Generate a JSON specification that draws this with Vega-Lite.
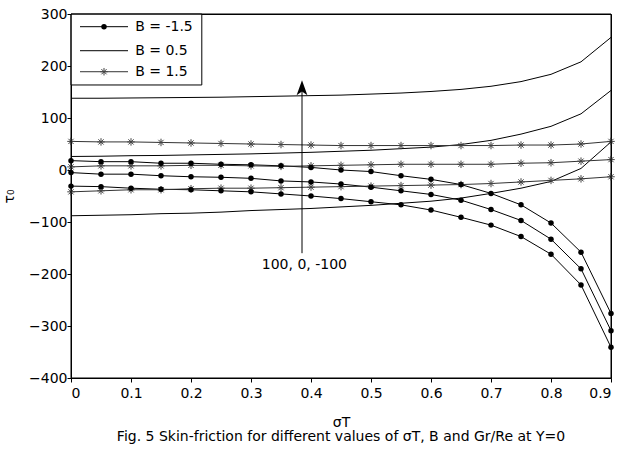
{
  "$schema": "https://vega.github.io/schema/vega-lite/v6.json",
  "width": 540,
  "height": 364,
  "autosize": {"type": "none"},
  "padding": {"left": 71, "top": 14, "right": 11, "bottom": 71},
  "background": "white",
  "config": {
    "view": {"stroke": "black", "strokeWidth": 1},
    "axis": {
      "grid": false,
      "domainColor": "black",
      "domainWidth": 1,
      "tickColor": "black",
      "tickWidth": 1,
      "tickSize": 4,
      "labelPadding": 2,
      "labelColor": "black",
      "titleColor": "black",
      "labelFont": "DejaVu Sans",
      "labelFontSize": 14,
      "titleFont": "DejaVu Sans",
      "titleFontSize": 14,
      "titleFontWeight": "normal"
    }
  },
  "title": {
    "text": "Fig. 5 Skin-friction for different values of σT, B and Gr/Re at Y=0",
    "orient": "bottom",
    "anchor": "middle",
    "font": "DejaVu Sans",
    "fontSize": 14,
    "fontWeight": "normal",
    "color": "black",
    "offset": 1
  },
  "datasets": {
    "curves": [
      {"s": 0, "t": 138, "B": "0.5", "G": "100"},
      {"s": 0.05, "t": 138, "B": "0.5", "G": "100"},
      {"s": 0.1, "t": 138.5, "B": "0.5", "G": "100"},
      {"s": 0.15, "t": 139, "B": "0.5", "G": "100"},
      {"s": 0.2, "t": 139.5, "B": "0.5", "G": "100"},
      {"s": 0.25, "t": 140, "B": "0.5", "G": "100"},
      {"s": 0.3, "t": 141, "B": "0.5", "G": "100"},
      {"s": 0.35, "t": 142, "B": "0.5", "G": "100"},
      {"s": 0.4, "t": 143, "B": "0.5", "G": "100"},
      {"s": 0.45, "t": 144, "B": "0.5", "G": "100"},
      {"s": 0.5, "t": 146, "B": "0.5", "G": "100"},
      {"s": 0.55, "t": 148, "B": "0.5", "G": "100"},
      {"s": 0.6, "t": 151, "B": "0.5", "G": "100"},
      {"s": 0.65, "t": 155, "B": "0.5", "G": "100"},
      {"s": 0.7, "t": 161, "B": "0.5", "G": "100"},
      {"s": 0.75, "t": 170, "B": "0.5", "G": "100"},
      {"s": 0.8, "t": 184, "B": "0.5", "G": "100"},
      {"s": 0.85, "t": 208, "B": "0.5", "G": "100"},
      {"s": 0.9, "t": 255, "B": "0.5", "G": "100"},
      {"s": 0, "t": 26, "B": "0.5", "G": "0"},
      {"s": 0.05, "t": 26.5, "B": "0.5", "G": "0"},
      {"s": 0.1, "t": 27.5, "B": "0.5", "G": "0"},
      {"s": 0.15, "t": 28, "B": "0.5", "G": "0"},
      {"s": 0.2, "t": 29, "B": "0.5", "G": "0"},
      {"s": 0.25, "t": 30, "B": "0.5", "G": "0"},
      {"s": 0.3, "t": 31, "B": "0.5", "G": "0"},
      {"s": 0.35, "t": 32.5, "B": "0.5", "G": "0"},
      {"s": 0.4, "t": 34, "B": "0.5", "G": "0"},
      {"s": 0.45, "t": 36, "B": "0.5", "G": "0"},
      {"s": 0.5, "t": 38, "B": "0.5", "G": "0"},
      {"s": 0.55, "t": 41, "B": "0.5", "G": "0"},
      {"s": 0.6, "t": 44, "B": "0.5", "G": "0"},
      {"s": 0.65, "t": 49, "B": "0.5", "G": "0"},
      {"s": 0.7, "t": 57, "B": "0.5", "G": "0"},
      {"s": 0.75, "t": 69, "B": "0.5", "G": "0"},
      {"s": 0.8, "t": 84, "B": "0.5", "G": "0"},
      {"s": 0.85, "t": 108, "B": "0.5", "G": "0"},
      {"s": 0.9, "t": 153, "B": "0.5", "G": "0"},
      {"s": 0, "t": -88, "B": "0.5", "G": "-100"},
      {"s": 0.05, "t": -87, "B": "0.5", "G": "-100"},
      {"s": 0.1, "t": -86, "B": "0.5", "G": "-100"},
      {"s": 0.15, "t": -84, "B": "0.5", "G": "-100"},
      {"s": 0.2, "t": -83, "B": "0.5", "G": "-100"},
      {"s": 0.25, "t": -81, "B": "0.5", "G": "-100"},
      {"s": 0.3, "t": -78, "B": "0.5", "G": "-100"},
      {"s": 0.35, "t": -76, "B": "0.5", "G": "-100"},
      {"s": 0.4, "t": -74, "B": "0.5", "G": "-100"},
      {"s": 0.45, "t": -71, "B": "0.5", "G": "-100"},
      {"s": 0.5, "t": -68, "B": "0.5", "G": "-100"},
      {"s": 0.55, "t": -64, "B": "0.5", "G": "-100"},
      {"s": 0.6, "t": -60, "B": "0.5", "G": "-100"},
      {"s": 0.65, "t": -54, "B": "0.5", "G": "-100"},
      {"s": 0.7, "t": -45, "B": "0.5", "G": "-100"},
      {"s": 0.75, "t": -35, "B": "0.5", "G": "-100"},
      {"s": 0.8, "t": -22, "B": "0.5", "G": "-100"},
      {"s": 0.85, "t": 3, "B": "0.5", "G": "-100"},
      {"s": 0.9, "t": 54, "B": "0.5", "G": "-100"},
      {"s": 0, "t": 18, "B": "-1.5", "G": "100"},
      {"s": 0.05, "t": 16, "B": "-1.5", "G": "100"},
      {"s": 0.1, "t": 16, "B": "-1.5", "G": "100"},
      {"s": 0.15, "t": 13, "B": "-1.5", "G": "100"},
      {"s": 0.2, "t": 13, "B": "-1.5", "G": "100"},
      {"s": 0.25, "t": 11, "B": "-1.5", "G": "100"},
      {"s": 0.3, "t": 10, "B": "-1.5", "G": "100"},
      {"s": 0.35, "t": 8, "B": "-1.5", "G": "100"},
      {"s": 0.4, "t": 5, "B": "-1.5", "G": "100"},
      {"s": 0.45, "t": 0, "B": "-1.5", "G": "100"},
      {"s": 0.5, "t": -3, "B": "-1.5", "G": "100"},
      {"s": 0.55, "t": -11, "B": "-1.5", "G": "100"},
      {"s": 0.6, "t": -18, "B": "-1.5", "G": "100"},
      {"s": 0.65, "t": -28, "B": "-1.5", "G": "100"},
      {"s": 0.7, "t": -45, "B": "-1.5", "G": "100"},
      {"s": 0.75, "t": -67, "B": "-1.5", "G": "100"},
      {"s": 0.8, "t": -102, "B": "-1.5", "G": "100"},
      {"s": 0.85, "t": -158, "B": "-1.5", "G": "100"},
      {"s": 0.9, "t": -276, "B": "-1.5", "G": "100"},
      {"s": 0, "t": -5, "B": "-1.5", "G": "0"},
      {"s": 0.05, "t": -8, "B": "-1.5", "G": "0"},
      {"s": 0.1, "t": -8, "B": "-1.5", "G": "0"},
      {"s": 0.15, "t": -11, "B": "-1.5", "G": "0"},
      {"s": 0.2, "t": -13, "B": "-1.5", "G": "0"},
      {"s": 0.25, "t": -14, "B": "-1.5", "G": "0"},
      {"s": 0.3, "t": -16, "B": "-1.5", "G": "0"},
      {"s": 0.35, "t": -21, "B": "-1.5", "G": "0"},
      {"s": 0.4, "t": -23, "B": "-1.5", "G": "0"},
      {"s": 0.45, "t": -27, "B": "-1.5", "G": "0"},
      {"s": 0.5, "t": -33, "B": "-1.5", "G": "0"},
      {"s": 0.55, "t": -40, "B": "-1.5", "G": "0"},
      {"s": 0.6, "t": -47, "B": "-1.5", "G": "0"},
      {"s": 0.65, "t": -58, "B": "-1.5", "G": "0"},
      {"s": 0.7, "t": -76, "B": "-1.5", "G": "0"},
      {"s": 0.75, "t": -97, "B": "-1.5", "G": "0"},
      {"s": 0.8, "t": -133, "B": "-1.5", "G": "0"},
      {"s": 0.85, "t": -190, "B": "-1.5", "G": "0"},
      {"s": 0.9, "t": -309, "B": "-1.5", "G": "0"},
      {"s": 0, "t": -31, "B": "-1.5", "G": "-100"},
      {"s": 0.05, "t": -32, "B": "-1.5", "G": "-100"},
      {"s": 0.1, "t": -35, "B": "-1.5", "G": "-100"},
      {"s": 0.15, "t": -37, "B": "-1.5", "G": "-100"},
      {"s": 0.2, "t": -38, "B": "-1.5", "G": "-100"},
      {"s": 0.25, "t": -40, "B": "-1.5", "G": "-100"},
      {"s": 0.3, "t": -42, "B": "-1.5", "G": "-100"},
      {"s": 0.35, "t": -46, "B": "-1.5", "G": "-100"},
      {"s": 0.4, "t": -50, "B": "-1.5", "G": "-100"},
      {"s": 0.45, "t": -55, "B": "-1.5", "G": "-100"},
      {"s": 0.5, "t": -61, "B": "-1.5", "G": "-100"},
      {"s": 0.55, "t": -67, "B": "-1.5", "G": "-100"},
      {"s": 0.6, "t": -77, "B": "-1.5", "G": "-100"},
      {"s": 0.65, "t": -91, "B": "-1.5", "G": "-100"},
      {"s": 0.7, "t": -106, "B": "-1.5", "G": "-100"},
      {"s": 0.75, "t": -128, "B": "-1.5", "G": "-100"},
      {"s": 0.8, "t": -162, "B": "-1.5", "G": "-100"},
      {"s": 0.85, "t": -221, "B": "-1.5", "G": "-100"},
      {"s": 0.9, "t": -341, "B": "-1.5", "G": "-100"},
      {"s": 0, "t": 55, "B": "1.5", "G": "100"},
      {"s": 0.05, "t": 54, "B": "1.5", "G": "100"},
      {"s": 0.1, "t": 54, "B": "1.5", "G": "100"},
      {"s": 0.15, "t": 53, "B": "1.5", "G": "100"},
      {"s": 0.2, "t": 52, "B": "1.5", "G": "100"},
      {"s": 0.25, "t": 51, "B": "1.5", "G": "100"},
      {"s": 0.3, "t": 50, "B": "1.5", "G": "100"},
      {"s": 0.35, "t": 49, "B": "1.5", "G": "100"},
      {"s": 0.4, "t": 48, "B": "1.5", "G": "100"},
      {"s": 0.45, "t": 47, "B": "1.5", "G": "100"},
      {"s": 0.5, "t": 47, "B": "1.5", "G": "100"},
      {"s": 0.55, "t": 47, "B": "1.5", "G": "100"},
      {"s": 0.6, "t": 47, "B": "1.5", "G": "100"},
      {"s": 0.65, "t": 47, "B": "1.5", "G": "100"},
      {"s": 0.7, "t": 47, "B": "1.5", "G": "100"},
      {"s": 0.75, "t": 48, "B": "1.5", "G": "100"},
      {"s": 0.8, "t": 48, "B": "1.5", "G": "100"},
      {"s": 0.85, "t": 50, "B": "1.5", "G": "100"},
      {"s": 0.9, "t": 55, "B": "1.5", "G": "100"},
      {"s": 0, "t": 6, "B": "1.5", "G": "0"},
      {"s": 0.05, "t": 8, "B": "1.5", "G": "0"},
      {"s": 0.1, "t": 8, "B": "1.5", "G": "0"},
      {"s": 0.15, "t": 8, "B": "1.5", "G": "0"},
      {"s": 0.2, "t": 9, "B": "1.5", "G": "0"},
      {"s": 0.25, "t": 9, "B": "1.5", "G": "0"},
      {"s": 0.3, "t": 8, "B": "1.5", "G": "0"},
      {"s": 0.35, "t": 7, "B": "1.5", "G": "0"},
      {"s": 0.4, "t": 8, "B": "1.5", "G": "0"},
      {"s": 0.45, "t": 9, "B": "1.5", "G": "0"},
      {"s": 0.5, "t": 10, "B": "1.5", "G": "0"},
      {"s": 0.55, "t": 11, "B": "1.5", "G": "0"},
      {"s": 0.6, "t": 11, "B": "1.5", "G": "0"},
      {"s": 0.65, "t": 11, "B": "1.5", "G": "0"},
      {"s": 0.7, "t": 11, "B": "1.5", "G": "0"},
      {"s": 0.75, "t": 13, "B": "1.5", "G": "0"},
      {"s": 0.8, "t": 14, "B": "1.5", "G": "0"},
      {"s": 0.85, "t": 17, "B": "1.5", "G": "0"},
      {"s": 0.9, "t": 20, "B": "1.5", "G": "0"},
      {"s": 0, "t": -42, "B": "1.5", "G": "-100"},
      {"s": 0.05, "t": -40, "B": "1.5", "G": "-100"},
      {"s": 0.1, "t": -38, "B": "1.5", "G": "-100"},
      {"s": 0.15, "t": -38, "B": "1.5", "G": "-100"},
      {"s": 0.2, "t": -36, "B": "1.5", "G": "-100"},
      {"s": 0.25, "t": -35, "B": "1.5", "G": "-100"},
      {"s": 0.3, "t": -35, "B": "1.5", "G": "-100"},
      {"s": 0.35, "t": -34, "B": "1.5", "G": "-100"},
      {"s": 0.4, "t": -33, "B": "1.5", "G": "-100"},
      {"s": 0.45, "t": -32, "B": "1.5", "G": "-100"},
      {"s": 0.5, "t": -31, "B": "1.5", "G": "-100"},
      {"s": 0.55, "t": -30, "B": "1.5", "G": "-100"},
      {"s": 0.6, "t": -29, "B": "1.5", "G": "-100"},
      {"s": 0.65, "t": -28, "B": "1.5", "G": "-100"},
      {"s": 0.7, "t": -26, "B": "1.5", "G": "-100"},
      {"s": 0.75, "t": -23, "B": "1.5", "G": "-100"},
      {"s": 0.8, "t": -20, "B": "1.5", "G": "-100"},
      {"s": 0.85, "t": -17, "B": "1.5", "G": "-100"},
      {"s": 0.9, "t": -13, "B": "1.5", "G": "-100"}
    ],
    "frame": [{"x": 0, "x2": 0.9, "y": -400, "y2": 300}],
    "legendbox": [{"x": 0, "x2": 0.218, "y": 163.5, "y2": 300}],
    "legendrows": [
      {"B": "-1.5", "label": "B = -1.5", "ly": 275.6, "x1": 0.015, "x2": 0.095, "xm": 0.055, "xt": 0.107},
      {"B": "0.5", "label": "B = 0.5", "ly": 229.4, "x1": 0.015, "x2": 0.095, "xm": 0.055, "xt": 0.107},
      {"B": "1.5", "label": "B = 1.5", "ly": 189, "x1": 0.015, "x2": 0.095, "xm": 0.055, "xt": 0.107}
    ],
    "arrow": [{"x": 0.385, "y1": -160, "y2": 158}],
    "arrowhead": [{"x": 0.385, "y": 158}],
    "note": [{"x": 0.389, "y": -183, "label": "100, 0, -100"}]
  },
  "layer": [
    {
      "data": {"name": "curves"},
      "mark": {"type": "line", "strokeWidth": 1, "clip": true},
      "encoding": {
        "x": {
          "field": "s", "type": "quantitative",
          "scale": {"domain": [0, 0.9], "nice": false, "zero": false},
          "axis": {"orient": "bottom", "values": [0, 0.1, 0.2, 0.3, 0.4, 0.5, 0.6, 0.7, 0.8, 0.9], "format": ".1~f", "title": "σT", "labelPadding": 4, "titlePadding": 15}
        },
        "y": {
          "field": "t", "type": "quantitative",
          "scale": {"domain": [-400, 300], "nice": false, "zero": false},
          "axis": {"orient": "left", "values": [-400, -300, -200, -100, 0, 100, 200, 300], "format": "d", "title": "τ₀", "titlePadding": 12, "labelPadding": 0}
        },
        "color": {"field": "B", "type": "nominal", "scale": {"domain": ["-1.5", "0.5", "1.5"], "range": ["black", "black", "#333333"]}, "legend": null},
        "detail": {"field": "G"}
      }
    },
    {
      "data": {"name": "curves"},
      "transform": [{"filter": "datum.B === '1.5'"}],
      "mark": {"type": "point", "shape": "M0,-1L0,1M-1,0L1,0M-0.7,-0.7L0.7,0.7M-0.7,0.7L0.7,-0.7", "filled": false, "size": 56, "stroke": "#444444", "strokeWidth": 1, "opacity": 1},
      "encoding": {
        "x": {"field": "s", "type": "quantitative"},
        "y": {"field": "t", "type": "quantitative"}
      }
    },
    {
      "data": {"name": "curves"},
      "transform": [{"filter": "datum.B === '-1.5'"}],
      "mark": {"type": "point", "shape": "circle", "filled": true, "size": 30, "color": "black", "opacity": 1},
      "encoding": {
        "x": {"field": "s", "type": "quantitative"},
        "y": {"field": "t", "type": "quantitative"}
      }
    },
    {
      "data": {"name": "arrow"},
      "mark": {"type": "rule", "color": "black", "strokeWidth": 1},
      "encoding": {
        "x": {"field": "x", "type": "quantitative"},
        "y": {"field": "y1", "type": "quantitative"},
        "y2": {"field": "y2"}
      }
    },
    {
      "data": {"name": "arrowhead"},
      "mark": {"type": "point", "shape": "M0,-1L0.72,1L0,0.5L-0.72,1Z", "filled": true, "size": 225, "color": "black", "opacity": 1},
      "encoding": {
        "x": {"field": "x", "type": "quantitative"},
        "y": {"field": "y", "type": "quantitative"}
      }
    },
    {
      "data": {"name": "note"},
      "mark": {"type": "text", "font": "DejaVu Sans", "fontSize": 14, "color": "black", "align": "center", "baseline": "middle"},
      "encoding": {
        "x": {"field": "x", "type": "quantitative"},
        "y": {"field": "y", "type": "quantitative"},
        "text": {"field": "label"}
      }
    },
    {
      "data": {"name": "legendbox"},
      "mark": {"type": "rect", "fill": "white", "stroke": "black", "strokeWidth": 1},
      "encoding": {
        "x": {"field": "x", "type": "quantitative"},
        "x2": {"field": "x2"},
        "y": {"field": "y", "type": "quantitative"},
        "y2": {"field": "y2"}
      }
    },
    {
      "data": {"name": "legendrows"},
      "mark": {"type": "rule", "strokeWidth": 1},
      "encoding": {
        "x": {"field": "x1", "type": "quantitative"},
        "x2": {"field": "x2"},
        "y": {"field": "ly", "type": "quantitative"},
        "color": {"field": "B", "type": "nominal", "scale": {"domain": ["-1.5", "0.5", "1.5"], "range": ["black", "black", "#333333"]}, "legend": null}
      }
    },
    {
      "data": {"name": "legendrows"},
      "transform": [{"filter": "datum.B === '-1.5'"}],
      "mark": {"type": "point", "shape": "circle", "filled": true, "size": 30, "color": "black", "opacity": 1},
      "encoding": {
        "x": {"field": "xm", "type": "quantitative"},
        "y": {"field": "ly", "type": "quantitative"}
      }
    },
    {
      "data": {"name": "legendrows"},
      "transform": [{"filter": "datum.B === '1.5'"}],
      "mark": {"type": "point", "shape": "M0,-1L0,1M-1,0L1,0M-0.7,-0.7L0.7,0.7M-0.7,0.7L0.7,-0.7", "filled": false, "size": 56, "stroke": "#444444", "strokeWidth": 1, "opacity": 1},
      "encoding": {
        "x": {"field": "xm", "type": "quantitative"},
        "y": {"field": "ly", "type": "quantitative"}
      }
    },
    {
      "data": {"name": "legendrows"},
      "mark": {"type": "text", "font": "DejaVu Sans", "fontSize": 14, "color": "black", "align": "left", "baseline": "middle"},
      "encoding": {
        "x": {"field": "xt", "type": "quantitative"},
        "y": {"field": "ly", "type": "quantitative"},
        "text": {"field": "label"}
      }
    },
    {
      "data": {"name": "frame"},
      "mark": {"type": "rect", "fill": "white", "fillOpacity": 0, "stroke": "black", "strokeWidth": 1},
      "encoding": {
        "x": {"field": "x", "type": "quantitative"},
        "x2": {"field": "x2"},
        "y": {"field": "y", "type": "quantitative"},
        "y2": {"field": "y2"}
      }
    }
  ]
}
